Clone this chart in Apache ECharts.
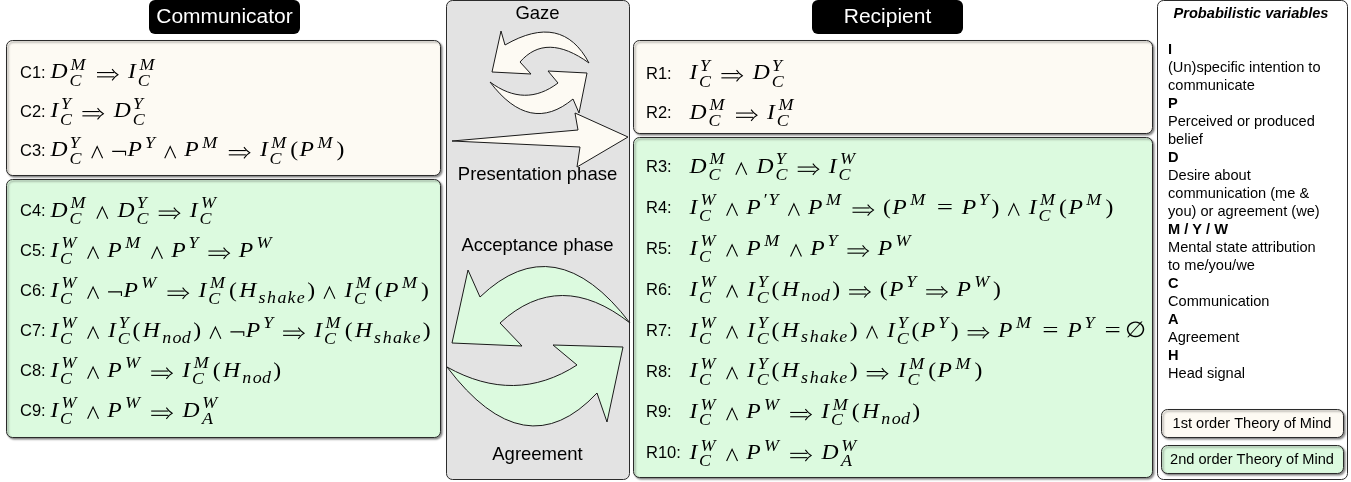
<!DOCTYPE html>
<html>
<head>
<meta charset="utf-8">
<script src="https://cdn.jsdelivr.net/npm/echarts@6/dist/echarts.min.js"></script>
<style>
    html, body { margin: 0; padding: 0; background: #fff; }
    #chart { width: 1351px; height: 482px; }
</style>
</head>
<body>
<div id="chart"></div>
<script>
    // rule formulas, token syntax: X_sub^sup, & = and, => = implies, ~ = not, 0 = empty set
    const commLabels1 = ['C1:', 'C2:', 'C3:']
    const commRules1 = [
        'D_C^M => I_C^M',
        'I_C^Y => D_C^Y',
        'D_C^Y & ~ P^Y & P^M => I_C^M ( P^M )'
    ]
    const commLabels2 = ['C4:', 'C5:', 'C6:', 'C7:', 'C8:', 'C9:']
    const commRules2 = [
        'D_C^M & D_C^Y => I_C^W',
        'I_C^W & P^M & P^Y => P^W',
        'I_C^W & ~ P^W => I_C^M ( H_{shake} ) & I_C^M ( P^M )',
        'I_C^W & I_C^Y ( H_{nod} ) & ~ P^Y => I_C^M ( H_{shake} )',
        'I_C^W & P^W => I_C^M ( H_{nod} )',
        'I_C^W & P^W => D_A^W'
    ]
    const recLabels1 = ['R1:', 'R2:']
    const recRules1 = [
        'I_C^Y => D_C^Y',
        'D_C^M => I_C^M'
    ]
    const recLabels2 = ['R3:', 'R4:', 'R5:', 'R6:', 'R7:', 'R8:', 'R9:', 'R10:']
    const recRules2 = [
        'D_C^M & D_C^Y => I_C^W',
        'I_C^W & P^{′Y} & P^M => ( P^M = P^Y ) & I_C^M ( P^M )',
        'I_C^W & P^M & P^Y => P^W',
        'I_C^W & I_C^Y ( H_{nod} ) => ( P^Y => P^W )',
        'I_C^W & I_C^Y ( H_{shake} ) & I_C^Y ( P^Y ) => P^M = P^Y = 0',
        'I_C^W & I_C^Y ( H_{shake} ) => I_C^M ( P^M )',
        'I_C^W & P^W => I_C^M ( H_{nod} )',
        'I_C^W & P^W => D_A^W'
    ]
    const headers = ['Communicator', 'Recipient']
    const phaseLabels = ['Gaze', 'Presentation phase', 'Acceptance phase', 'Agreement']
    const legendTitle = 'Probabilistic variables'
    const legendKeys = ['I', 'P', 'D', 'M / Y / W', 'C', 'A', 'H']
    const legendDescs = [
        ['(Un)specific intention to', 'communicate'],
        ['Perceived or produced', 'belief'],
        ['Desire about', 'communication (me &', 'you) or agreement (we)'],
        ['Mental state attribution', 'to me/you/we'],
        ['Communication'],
        ['Agreement'],
        ['Head signal']
    ]
    const tomLabels = ['1st order Theory of Mind', '2nd order Theory of Mind']

    // 样式
    const CREAM = '#fdfaf3'
    const GREEN = '#dcfadf'
    const GRAY = '#e3e3e3'
    const EDGE = '#2b2b2b'
    const SANS = '"Liberation Sans", Arial, sans-serif'
    const SERIF = '"Liberation Serif", "DejaVu Serif", serif'
    const EM_X = 24.4      // 水平方向的 em
    const FONT_V = 21.5    // 字号
    const GLYPH_SX = 1.1
    const SCRIPT_ADV = 0.756
    const SCRIPT_SIZE = 0.76

    // Computer Modern 字宽 (em)
    const CM_W = {
        A: .750, C: .715, D: .828, H: .831, I: .440, M: .970, P: .642, W: .944, Y: .581,
        s: .469, h: .576, a: .529, k: .521, e: .466, n: .600, o: .485, d: .520, '′': .275
    }
    const CM_IC = { I: .078, P: .139, D: .028, H: .081, W: .139, Y: .224, M: .109, C: .072 }

    const OPS = {
        '&': { ch: '∧', w: .667, sp: .222, draw: 'wedge' },
        '=>': { ch: '⇒', w: 1.0, sp: .278, draw: 'implies' },
        '=': { ch: '=', w: .778, sp: .278, gw: .667 },
        '~': { ch: '¬', w: .667, sp: 0, draw: 'not' },
        '(': { ch: '(', w: .389, sp: 0 },
        ')': { ch: ')', w: .389, sp: 0 },
        '0': { ch: '∅', w: .5, sp: 0 }
    }
    const ATOM = /^([A-Za-z]+)(?:_\{?([^}^]+)\}?)?(?:\^\{?([^}]+)\}?)?$/

    const ctx = document.createElement('canvas').getContext('2d')
    function measure(s, font) {
        ctx.font = font
        return ctx.measureText(s).width
    }
    function mathFont(size, italic) {
        return (italic ? 'italic ' : '') + size + 'px ' + SERIF
    }

    const elements = []

    function text(str, x, y, font, opts) {
        opts = opts || {}
        elements.push({
            type: 'text',
            x: x,
            y: y,
            z: opts.z || 10,
            scaleX: opts.sx || 1,
            style: {
                text: str,
                font: font,
                fill: opts.fill || '#000',
                align: opts.align || 'left',
                verticalAlign: 'middle',
                textAlign: opts.align || 'left',
                textVerticalAlign: 'middle'
            }
        })
    }

    function strokes(points) {
        elements.push({
            type: 'polyline',
            z: 10,
            shape: { points: points },
            style: { stroke: '#000', lineWidth: 1.1, fill: null }
        })
    }

    function rect(x, y, w, h, fill, shadow) {
        elements.push({
            type: 'rect',
            z: 1,
            shape: { x: x, y: y, width: w, height: h, r: 6 },
            style: {
                fill: fill,
                stroke: EDGE,
                lineWidth: 1,
                shadowBlur: shadow ? 2 : 0,
                shadowOffsetX: shadow ? 1.5 : 0,
                shadowOffsetY: shadow ? 1.5 : 0,
                shadowColor: 'rgba(0,0,0,0.45)'
            }
        })
    }

    // 一串斜体字母, 按 CM 字宽排版, 返回宽度
    function word(str, x, base, isScript) {
        const size = FONT_V * (isScript ? SCRIPT_SIZE : 1)
        const adv = isScript ? SCRIPT_ADV : 1
        const k = isScript ? 0.3 : 0.5
        let w = 0
        for (const ch of str) {
            const font = mathFont(size, ch !== '′')
            const bw = (CM_W[ch] || .5) * adv * EM_X
            const gw = measure(ch, font) * GLYPH_SX
            text(ch, x + w + (bw - gw) * k, base - 0.35 * size, font, { sx: GLYPH_SX })
            w += bw
        }
        return w
    }

    // 排版一个公式
    function formula(src, x0, base) {
        let x = x0
        src.split(/\s+/).forEach(tok => {
            const op = OPS[tok]
            if (op) {
                x += op.sp * EM_X
                const bw = op.w * EM_X
                if (op.draw === 'wedge') {
                    strokes([[x + .11 * EM_X, base], [x + bw / 2, base - .55 * FONT_V], [x + bw - .11 * EM_X, base]])
                } else if (op.draw === 'not') {
                    strokes([[x + .06 * EM_X, base - .32 * FONT_V], [x + bw - .06 * EM_X, base - .32 * FONT_V], [x + bw - .06 * EM_X, base - .13 * FONT_V]])
                } else if (op.draw === 'implies') {
                    const l = x + .06 * EM_X, r = x + .92 * EM_X, mid = base - .26 * FONT_V
                    strokes([[l, mid - .1 * FONT_V], [r - .16 * EM_X, mid - .1 * FONT_V]])
                    strokes([[l, mid + .1 * FONT_V], [r - .16 * EM_X, mid + .1 * FONT_V]])
                    strokes([[r - .24 * EM_X, mid - .26 * FONT_V], [r - .12 * EM_X, mid - .1 * FONT_V], [r, mid], [r - .12 * EM_X, mid + .1 * FONT_V], [r - .24 * EM_X, mid + .26 * FONT_V]])
                } else {
                    const font = mathFont(FONT_V, false)
                    const sx = op.gw ? op.gw * EM_X / measure(op.ch, font) : GLYPH_SX
                    text(op.ch, x + bw / 2, base - 0.35 * FONT_V, font, { align: 'center', sx: sx })
                }
                x += bw + op.sp * EM_X
                return
            }
            const m = tok.match(ATOM)
            x += word(m[1], x, base, false)
            const last = m[1][m[1].length - 1]
            let w = 0
            if (m[3]) {
                const dx = (CM_IC[last] || 0) * EM_X * 0.6
                w = Math.max(w, dx + word(m[3], x + dx, base - .42 * FONT_V, true))
            }
            if (m[2]) {
                const drop = m[3] ? .31 : .24
                w = Math.max(w, word(m[2], x, base + drop * FONT_V, true))
            }
            x += w + (w > 0 ? .05 * EM_X : 0)
        })
    }

    function ruleBlock(labels, rules, xLabel, xFormula, y0, step) {
        rules.forEach((r, i) => {
            const y = y0 + i * step
            text(labels[i], xLabel, y, '16.5px ' + SANS)
            formula(r, xFormula, y + 7.3)
        })
    }

    // 将轮廓转换为多边形点
    function outline(cmds) {
        const pts = []
        let cur = null
        cmds.forEach(c => {
            if (c[0] === 'M' || c[0] === 'L') {
                cur = [c[1], c[2]]
                pts.push(cur)
            } else if (c[0] === 'Q') {
                const p0 = cur
                for (let t = 1; t <= 16; t++) {
                    const s = t / 16
                    const a = (1 - s) * (1 - s), b = 2 * s * (1 - s), d = s * s
                    pts.push([a * p0[0] + b * c[1] + d * c[3], a * p0[1] + b * c[2] + d * c[4]])
                }
                cur = [c[3], c[4]]
            }
        })
        return pts
    }

    function arrow(cmds, fill) {
        elements.push({
            type: 'polygon',
            z: 5,
            shape: { points: outline(cmds) },
            style: { fill: fill, stroke: '#1a1a1a', lineWidth: 1 }
        })
    }

    // 面板
    rect(446.5, 0.5, 183, 479, GRAY, false)
    rect(6.5, 40.5, 434, 135, CREAM, true)
    rect(6.5, 179.5, 434, 258, GREEN, true)
    rect(633.5, 40.5, 519, 93, CREAM, true)
    rect(633.5, 137.5, 519, 340, GREEN, true)
    rect(1157.5, 0.5, 190, 479, '#ffffff', false)
    rect(1161.5, 409.5, 182, 28, CREAM, true)
    rect(1161.5, 445.5, 182, 28, GREEN, true)

    // 标题
    elements.push({ type: 'rect', z: 2, shape: { x: 149, y: 0, width: 151, height: 34, r: 6 }, style: { fill: '#000' } })
    elements.push({ type: 'rect', z: 2, shape: { x: 812, y: 0, width: 151, height: 34, r: 6 }, style: { fill: '#000' } })
    text(headers[0], 224.5, 17, '21px ' + SANS, { fill: '#fff', align: 'center' })
    text(headers[1], 887.5, 17, '21px ' + SANS, { fill: '#fff', align: 'center' })

    // 中间的箭头
    arrow([['M', 589, 63], ['Q', 562, 12, 505, 45], ['L', 501, 31], ['L', 492, 72], ['L', 531, 74], ['L', 520, 62], ['Q', 546, 32, 589, 63]], CREAM)
    arrow([['M', 490, 82], ['Q', 525, 108, 558, 83], ['L', 548, 71], ['L', 587, 73], ['L', 579, 113], ['L', 573, 99], ['Q', 530, 135, 490, 82]], CREAM)
    arrow([['M', 452, 141], ['L', 578, 130], ['L', 575, 113], ['L', 628, 137], ['L', 577, 167], ['L', 580, 147], ['L', 452, 141]], CREAM)
    arrow([['M', 630, 323], ['Q', 555, 225, 480, 297], ['L', 468, 270], ['L', 452, 343], ['L', 522, 346], ['L', 500, 323], ['Q', 560, 268, 630, 323]], GREEN)
    arrow([['M', 447, 367], ['Q', 515, 405, 577, 365], ['L', 553, 345], ['L', 623, 347], ['L', 607, 422], ['L', 597, 393], ['Q', 525, 470, 447, 367]], GREEN)

    const phaseY = [14, 175, 246, 455]
    phaseLabels.forEach((p, i) => text(p, 537.5, phaseY[i], '18.5px ' + SANS, { align: 'center' }))

    // 规则
    ruleBlock(commLabels1, commRules1, 20, 49, 73, 39)
    ruleBlock(commLabels2, commRules2, 20, 49, 211.5, 40)
    ruleBlock(recLabels1, recRules1, 646, 688, 74, 39.5)
    ruleBlock(recLabels2, recRules2, 646, 688, 167.5, 40.9)

    // 图例
    text(legendTitle, 1251, 14, 'italic bold 14.6px ' + SANS, { align: 'center' })
    let ly = 50
    legendKeys.forEach((k, i) => {
        text(k, 1168, ly, 'bold 14.6px ' + SANS)
        ly += 18
        legendDescs[i].forEach(line => {
            text(line, 1168, ly, '14.6px ' + SANS)
            ly += 18
        })
    })
    text(tomLabels[0], 1252, 424, '14.6px ' + SANS, { align: 'center' })
    text(tomLabels[1], 1252, 460, '14.6px ' + SANS, { align: 'center' })

    const myChart = echarts.init(document.getElementById('chart'))
    myChart.setOption({
        animation: false,
        graphic: { elements: elements }
    })
</script>
</body>
</html>
